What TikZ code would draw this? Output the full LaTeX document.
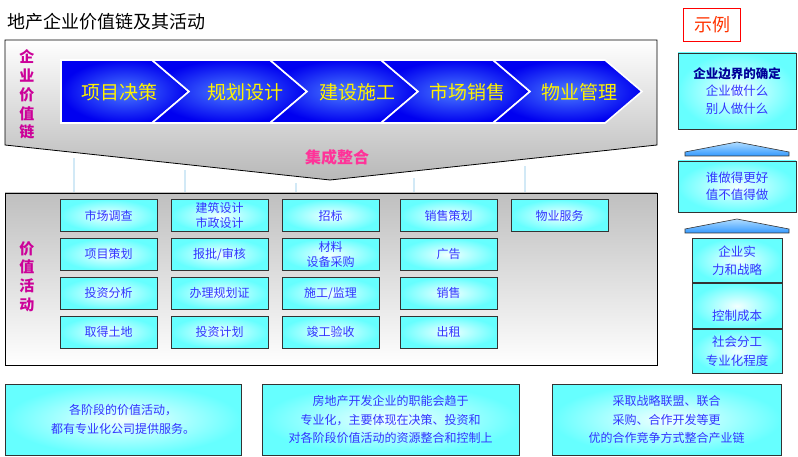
\documentclass[tikz,border=0pt]{standalone}
\usepackage{fontspec}
\setmainfont{Noto Sans CJK SC}
\usepackage{tikz}
\usetikzlibrary{positioning}
\definecolor{chevx}{HTML}{0000F0}
\definecolor{chevin}{HTML}{4A7BFF}
\definecolor{cyanx}{HTML}{66FFFF}
\definecolor{txtx}{HTML}{3333FF}
\definecolor{navyx}{HTML}{000099}
\definecolor{magx}{HTML}{CC0099}
\definecolor{pinkx}{HTML}{FF3399}
\definecolor{redx}{HTML}{FF0000}
\definecolor{orx}{HTML}{FF3300}
\definecolor{spkx}{HTML}{D2E9F6}
\definecolor{triin}{HTML}{B0DCFF}
\definecolor{triout}{HTML}{3399FF}
\definecolor{edgex}{HTML}{333333}
\tikzset{
  pan/.style={draw=black,line width=0.8pt},
  chev/.style={draw=white,line width=1.6pt,inner color=chevin,outer color=chevx},
  chtxt/.style={text=yellow,font=\fontsize{19}{21}\selectfont},
  vlab/.style={text=magx,font=\fontsize{15}{18.8}\selectfont\bfseries,align=center,inner sep=0pt},
  act/.style={draw=edgex,line width=0.9pt,inner color=cyanx!8,outer color=cyanx,minimum width=97pt,minimum height=32pt,inner sep=1pt,align=center,text=txtx,font=\fontsize{12}{14.5}\selectfont},
  rbox/.style={draw=edgex,line width=0.9pt,inner color=cyanx!8,outer color=cyanx,minimum width=118pt,align=center,text=txtx,font=\fontsize{12.5}{17.5}\selectfont},
  stk/.style={draw=edgex,line width=0.9pt,inner color=cyanx!8,outer color=cyanx,minimum width=90pt,minimum height=44.5pt,inner sep=1pt,align=center,text=txtx,font=\fontsize{12.5}{18.5}\selectfont},
  note/.style={draw=edgex,line width=0.9pt,inner color=cyanx!8,outer color=cyanx,minimum height=71pt,align=center,text=txtx,font=\fontsize{12}{18.5}\selectfont},
  tri/.style={draw=edgex,line width=0.6pt,top color=triin,bottom color=triout},
  spk/.style={spkx,line width=2pt}
}

\begin{document}
\begin{tikzpicture}[x=1pt,y=-1pt]
\useasboundingbox (0,0) rectangle (798,457);
\node[anchor=west,font=\fontsize{18}{20}\selectfont,inner sep=0pt] (title) at (7,22) {地产企业价值链及其活动};
% spokes under the funnel
\foreach \x/\y in {74/158,185/170,296/183,414/178,525/166}{
  \coordinate (t\x) at (\x,\y);
  \coordinate (u\x) at (\x,193);
  \draw[spk] (t\x)--(u\x);
}
% value chain panel
\draw[pan,top color=white,bottom color=black!28] (5,40)--(657,40)--(657,145)--(330,180)--(5,145)--cycle;
\draw[chev] (61,60)--(152,60)--(189,91.5)--(152,123)--(61,123)--cycle;
\foreach \l/\r in {152/270,270/381,381/493,493/605}{
  \draw[chev] (\l,60)--(\r,60)--(\r+37,91.5)--(\r,123)--(\l,123)--(\l+37,91.5)--cycle;
}
\node[chtxt] (c1) at (119,92) {项目决策};
\node[chtxt] (c2) at (245,92) {规划设计};
\node[chtxt] (c3) at (357,92) {建设施工};
\node[chtxt] (c4) at (467,92) {市场销售};
\node[chtxt] (c5) at (579,92) {物业管理};
\node[vlab] (vl1) at (27,94.5) {企\\业\\价\\值\\链};
\node[text=pinkx,font=\fontsize{16}{18}\selectfont\bfseries] (jc) at (337,157) {集成整合};
% activity panel
\draw[pan,top color=black!25,bottom color=white] (5,193) rectangle (657,365);
\node[vlab] (vl2) at (27,276.5) {价\\值\\活\\动};
\node[act] (a1) at (108.5,215.5) {市场调查};
\node[act,below=6pt of a1] (a2) {项目策划};
\node[act,below=6pt of a2] (a3) {投资分析};
\node[act,below=6pt of a3] (a4) {取得土地};
\node[act] (b1) at (219.5,215.5) {建筑设计\\市政设计};
\node[act,below=6pt of b1] (b2) {报批/审核};
\node[act,below=6pt of b2] (b3) {办理规划证};
\node[act,below=6pt of b3] (b4) {投资计划};
\node[act] (d1) at (330.5,215.5) {招标};
\node[act,below=6pt of d1] (d2) {材料\\设备采购};
\node[act,below=6pt of d2] (d3) {施工/监理};
\node[act,below=6pt of d3] (d4) {竣工验收};
\node[act] (e1) at (448.5,215.5) {销售策划};
\node[act,below=6pt of e1] (e2) {广告};
\node[act,below=6pt of e2] (e3) {销售};
\node[act,below=6pt of e3] (e4) {出租};
\node[act] (f1) at (559.5,215.5) {物业服务};
% example column
\node[draw=redx,line width=1.5pt,minimum width=57pt,minimum height=33pt,text=orx,font=\fontsize{18}{20}\selectfont] (sl) at (712,25) {示例};
\node[rbox,minimum height=76pt] (r1) at (737,91) {{\color{navyx}\bfseries 企业边界的确定}\\企业做什么\\别人做什么};
\draw[tri] (685,156)--(685,152)--(737,142)--(789,152)--(789,156)--cycle;
\node[rbox,minimum height=51pt] (r2) at (737,186.5) {谁做得更好\\值不值得做};
\draw[tri] (685,233)--(685,229)--(737,219)--(789,229)--(789,233)--cycle;
\node[stk] (k1) at (737,260.5) {企业实\\力和战略};
\node[stk,below=0pt of k1] (k2) {\raisebox{-10pt}[\height][\depth]{控制成本}};
\node[stk,below=0pt of k2] (k3) {社会分工\\专业化程度};
% notes
\node[note,minimum width=236pt] (n1) at (123,419.5) {各阶段的价值活动，\\都有专业化公司提供服务。};
\node[note,minimum width=257pt] (n2) at (390.5,419.5) {房地产开发企业的职能会趋于\\专业化，主要体现在决策、投资和\\对各阶段价值活动的资源整合和控制上};
\node[note,minimum width=229pt] (n3) at (666.5,419.5) {采取战略联盟、联合\\采购、合作开发等更\\优的合作竞争方式整合产业链};
\end{tikzpicture}
\end{document}
